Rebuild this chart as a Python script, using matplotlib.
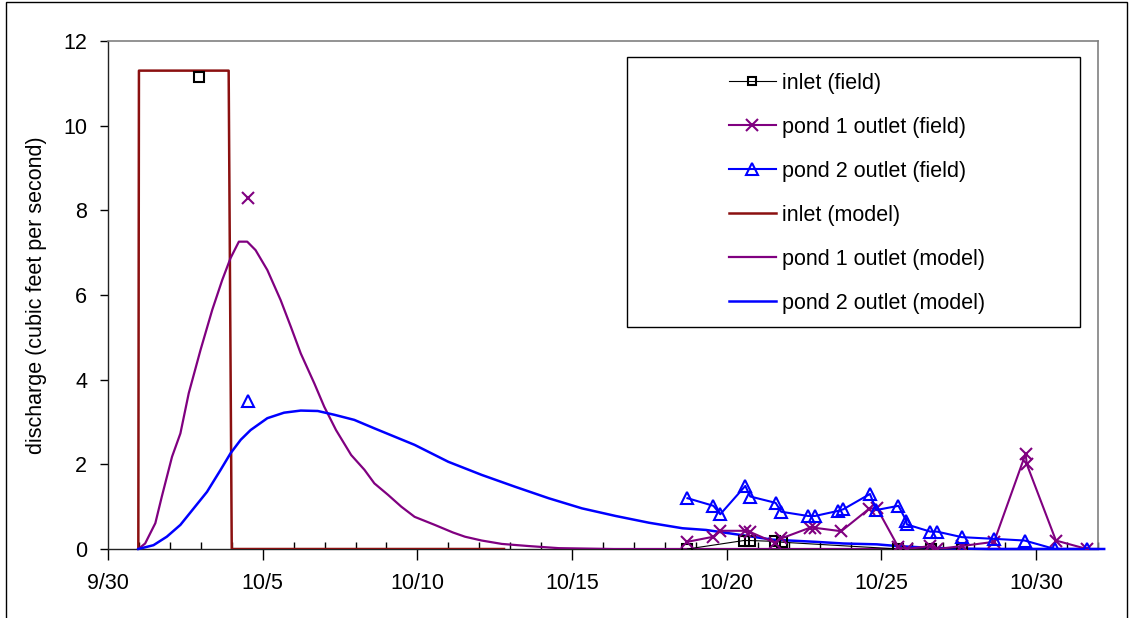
import numpy as np
import matplotlib
matplotlib.use("Agg")
import matplotlib.pyplot as plt
from matplotlib.patches import Rectangle
from matplotlib.ticker import MultipleLocator

plt.rcParams['font.family'] = ['Liberation Sans', 'DejaVu Sans']

nan = np.nan

# days after 9/30
tick_days = [0, 5, 10, 15, 20, 25, 30]
tick_labels = ["9/30", "10/5", "10/10", "10/15", "10/20", "10/25", "10/30"]

# field measurements (nan marks a break in the series)
inlet_field_day = [2.95, nan, 18.73, 20.55, 20.74, 21.55, 21.79, 25.55, 26.6, 27.6]
inlet_field_q = [11.15, nan, 0.0, 0.2, 0.2, 0.18, 0.16, 0.0, 0.0, 0.0]

pond1_field_day = [4.51, nan, 18.73, 19.57, 19.79, 20.6, 20.76, 21.55, 21.76, 22.68, 22.85,
                   23.7, 24.6, 24.85, 25.55, 25.82, 26.58, 26.8, 27.6, 28.64, 29.66, 29.7,
                   30.64, 31.64]
pond1_field_q = [8.29, nan, 0.17, 0.29, 0.43, 0.43, 0.40, 0.15, 0.25, 0.5, 0.5,
                 0.42, 0.95, 0.97, 0.04, 0.0, 0.07, 0.0, 0.07, 0.17, 2.25, 2.0,
                 0.2, 0.0]

pond2_field_day = [4.51, nan, 18.73, 19.57, 19.79, 20.6, 20.76, 21.58, 21.76, 22.63, 22.85,
                   23.6, 23.77, 24.63, 24.83, 25.55, 25.8, 25.82, 26.58, 26.8, 27.6, 28.64,
                   29.63, 30.6, 31.64]
pond2_field_q = [3.5, nan, 1.2, 1.02, 0.82, 1.49, 1.24, 1.09, 0.88, 0.78, 0.78,
                 0.9, 0.94, 1.3, 0.92, 1.02, 0.67, 0.58, 0.41, 0.41, 0.28, 0.24,
                 0.2, 0.0, 0.0]

# model results
inlet_model_day = [0.98, 1.0, 3.9, 4.0, 12.8]
inlet_model_q = [0.0, 11.3, 11.3, 0.0, 0.0]

pond1_model_day = [0.98, 1.2, 1.53, 1.74, 2.07, 2.34, 2.61, 2.99, 3.37, 3.69, 3.96, 4.23,
                   4.5, 4.77, 5.15, 5.58, 5.91, 6.23, 6.67, 6.99, 7.37, 7.86, 8.29, 8.61,
                   9.05, 9.48, 9.91, 10.56, 11.15, 11.54, 12.08, 12.73, 13.59, 14.57,
                   16.35, 32.0]
pond1_model_q = [0.0, 0.13, 0.61, 1.24, 2.18, 2.73, 3.68, 4.7, 5.65, 6.35, 6.87, 7.26,
                 7.26, 7.06, 6.59, 5.88, 5.25, 4.62, 3.91, 3.36, 2.81, 2.22, 1.87, 1.55,
                 1.28, 1.0, 0.76, 0.57, 0.39, 0.29, 0.2, 0.12, 0.07, 0.02,
                 0.0, 0.0]

pond2_model_day = [0.98, 1.47, 1.9, 2.34, 2.77, 3.2, 3.64, 3.96, 4.29, 4.61, 5.15, 5.69,
                   6.23, 6.78, 7.32, 7.96, 8.61, 9.91, 11.0, 12.08, 13.16, 14.24, 15.32,
                   16.41, 17.49, 18.57, 19.33, 20.09, 21.49, 22.85, 23.77, 24.85, 25.5,
                   26.5, 27.5, 28.5, 32.2]
pond2_model_q = [0.0, 0.09, 0.29, 0.57, 0.96, 1.35, 1.87, 2.26, 2.58, 2.81, 3.09, 3.22,
                 3.27, 3.26, 3.17, 3.05, 2.85, 2.46, 2.06, 1.75, 1.47, 1.2, 0.96,
                 0.78, 0.62, 0.49, 0.45, 0.37, 0.22, 0.17, 0.13, 0.11, 0.07,
                 0.03, 0.01, 0.0, 0.0]

W, H = 1133, 618
fig = plt.figure(figsize=(W / 100, H / 100), dpi=100)
fig.patch.set_facecolor('white')

# outer chart frame
fig.add_artist(Rectangle((6 / W, -0.05), (1127 - 6) / W, 1.05 - 2 / H,
                         transform=fig.transFigure, fill=False, ec='black', lw=1))

left, right, top, bottom = 108, 1098, 41, 549
ax = fig.add_axes([left / W, 1 - bottom / H, (right - left) / W, (bottom - top) / H])

BLACK = '#000000'
PURPLE = '#800080'
BLUE = '#0000FF'
DARKRED = '#8B1010'

fs = 15.5

ax.plot(inlet_field_day, inlet_field_q, color=BLACK, lw=0.8, marker='s', ms=7,
        mfc='none', mec=BLACK, mew=1.5, zorder=4, label='inlet (field)')
ax.plot(pond1_field_day, pond1_field_q, color=PURPLE, lw=1.5, marker='x', ms=9,
        mec=PURPLE, mew=1.5, zorder=4, label='pond 1 outlet (field)')
ax.plot(pond2_field_day, pond2_field_q, color=BLUE, lw=1.5, marker='^', ms=9,
        mfc='none', mec=BLUE, mew=1.5, zorder=4, label='pond 2 outlet (field)')
ax.plot(inlet_model_day, inlet_model_q, color=DARKRED, lw=1.8, zorder=3, label='inlet (model)')
ax.plot(pond1_model_day, pond1_model_q, color=PURPLE, lw=1.6, zorder=3, label='pond 1 outlet (model)')
ax.plot(pond2_model_day, pond2_model_q, color=BLUE, lw=1.8, zorder=3, clip_on=False,
        label='pond 2 outlet (model)')

ax.set_xlim(0, 32)
ax.set_ylim(0, 12)
ax.set_xticks(tick_days)
ax.set_xticklabels(tick_labels)
ax.xaxis.set_minor_locator(MultipleLocator(1))
ax.set_yticks(range(0, 13, 2))
ax.tick_params(axis='x', which='major', direction='out', length=8, width=1, labelsize=fs, pad=9)
ax.tick_params(axis='x', which='minor', direction='in', length=5, width=1)
ax.tick_params(axis='y', which='major', direction='out', length=6, width=1, labelsize=fs, pad=9)

for side in ('top', 'right'):
    ax.spines[side].set_color('#808080')
    ax.spines[side].set_linewidth(1.2)
for side in ('left', 'bottom'):
    ax.spines[side].set_color('#222222')
    ax.spines[side].set_linewidth(1)

ax.set_ylabel('discharge (cubic feet per second)', fontsize=fs)
ax.yaxis.set_label_coords((47 - left) / (right - left), 0.5)

# legend box and entries
lx0, ly0, lx1, ly1 = 627, 57, 1080, 327
fig.add_artist(Rectangle((lx0 / W, 1 - ly1 / H), (lx1 - lx0) / W, (ly1 - ly0) / H,
                         transform=fig.transFigure, fill=False, ec='black', lw=1, zorder=5))
handles, labels = ax.get_legend_handles_labels()
leg = fig.legend(handles, labels, loc='upper left', frameon=False,
                 bbox_to_anchor=(718 / W, 1 - 62 / H), fontsize=fs,
                 handlelength=2.2, handletextpad=0.25, labelspacing=1.07, borderpad=0,
                 markerscale=0.9)

fig.savefig('out.png', dpi=100, facecolor='white')
